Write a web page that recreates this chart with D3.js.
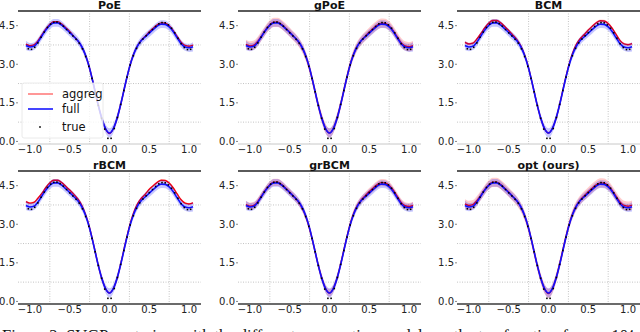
<!DOCTYPE html>
<html>
<head>
<meta charset="utf-8">
<script src="https://cdn.jsdelivr.net/npm/d3@7"></script>
<style>
body { margin: 0; background: #fff; }
text { font-family: "DejaVu Sans", sans-serif; }
</style>
</head>
<body>
<div id="chart"></div>
<script>
// input locations of the posterior curves
var gridX = [-1.05,-1.00,-0.95,-0.90,-0.85,-0.80,-0.75,-0.70,-0.65,-0.60,-0.55,-0.50,-0.45,-0.40,-0.35,-0.30,-0.25,-0.20,-0.15,-0.10,-0.05,0.00,
             0.05,0.10,0.15,0.20,0.25,0.30,0.35,0.40,0.45,0.50,0.55,0.60,0.65,0.70,0.75,0.80,0.85,0.90,0.95,1.00,1.05];

// full GP (same in every panel)
var fullMean = [3.73,3.67,3.70,3.86,4.10,4.33,4.51,4.61,4.61,4.52,4.38,4.23,4.08,3.92,3.69,3.34,2.84,2.20,1.52,0.93,0.50,0.33,
                0.51,0.95,1.56,2.24,2.87,3.36,3.70,3.92,4.07,4.21,4.35,4.48,4.56,4.55,4.45,4.27,4.03,3.80,3.67,3.64,3.68];
var fullBand = [0.18,0.16,0.15,0.15,0.15,0.15,0.15,0.15,0.15,0.15,0.15,0.15,0.15,0.15,0.15,0.15,0.15,0.15,0.15,0.16,0.17,0.18,
                0.17,0.16,0.15,0.15,0.15,0.15,0.15,0.15,0.15,0.15,0.15,0.15,0.15,0.15,0.15,0.15,0.15,0.15,0.15,0.16,0.18];

// aggregated posterior means, one per model
var poeMean   = [3.78,3.72,3.75,3.91, 4.14,4.37,4.55,4.65,4.65,4.56,4.42,4.27, 4.09,3.92,3.69,3.34,2.84,2.20,1.52,0.93, 0.49,0.31,0.50,
                 0.95,1.56,2.24,2.87,3.37,3.71,3.94,4.09, 4.26,4.40,4.53,4.61,4.60,4.50,4.32,4.08, 3.86,3.73,3.70,3.74];
var gpoeMean  = [3.77,3.71,3.74,3.90, 4.12,4.35,4.53,4.63,4.63,4.54,4.40,4.25, 4.08,3.91,3.68,3.33,2.83,2.19,1.52,0.94, 0.50,0.33,0.51,
                 0.96,1.57,2.25,2.88,3.37,3.71,3.93,4.09, 4.25,4.39,4.52,4.60,4.59,4.49,4.31,4.07, 3.84,3.71,3.68,3.72];
var bcmMean   = [3.85,3.79,3.82,3.98, 4.19,4.42,4.60,4.70,4.70,4.61,4.47,4.31, 4.14,3.97,3.73,3.36,2.85,2.20,1.52,0.93, 0.50,0.33,0.51,
                 0.95,1.57,2.26,2.90,3.41,3.77,4.00,4.16, 4.33,4.48,4.61,4.69,4.68,4.58,4.40,4.16, 3.92,3.79,3.76,3.80];
var rbcmMean  = [3.88,3.82,3.85,4.01, 4.20,4.43,4.61,4.71,4.71,4.62,4.48,4.33, 4.17,3.99,3.75,3.37,2.86,2.21,1.52,0.93, 0.50,0.33,0.51,
                 0.95,1.58,2.27,2.91,3.42,3.78,4.01,4.17, 4.36,4.50,4.63,4.71,4.70,4.60,4.42,4.18, 3.95,3.82,3.79,3.83];
var grbcmMean = [3.76,3.70,3.73,3.89, 4.12,4.35,4.53,4.63,4.63,4.54,4.40,4.25, 4.08,3.91,3.67,3.32,2.82,2.19,1.52,0.94, 0.50,0.33,0.51,
                 0.96,1.58,2.26,2.89,3.39,3.73,3.95,4.11, 4.27,4.41,4.54,4.62,4.61,4.51,4.33,4.09, 3.85,3.72,3.69,3.73];
var optMean   = [3.79,3.73,3.76,3.92, 4.12,4.35,4.53,4.63,4.63,4.54,4.40,4.25, 4.08,3.91,3.68,3.33,2.83,2.19,1.51,0.93, 0.49,0.31,0.50,
                 0.96,1.58,2.26,2.89,3.38,3.72,3.95,4.11, 4.26,4.40,4.53,4.61,4.60,4.50,4.32,4.08, 3.86,3.73,3.70,3.74];

// half-width of the aggregated confidence band per model
var models   = ["PoE", "gPoE", "BCM", "rBCM", "grBCM", "opt (ours)"];
var aggMeans = [poeMean, gpoeMean, bcmMean, rbcmMean, grbcmMean, optMean];
var aggBands = [0.03, 0.18, 0.05, 0.04, 0.14, 0.18];

// true function samples
var trueX = [-1.02,-0.98,-0.94,-0.90,-0.86,-0.82,-0.78,-0.74,-0.70,-0.66,-0.62,-0.58,-0.54,-0.50,-0.46,-0.42,-0.38,-0.34,-0.30,-0.26,-0.22,-0.18,-0.14,-0.10,-0.06,-0.02,
             0.02,0.06,0.10,0.14,0.18,0.22,0.26,0.30,0.34,0.38,0.42,0.46,0.50,0.54,0.58,0.62,0.66,0.70,0.74,0.78,0.82,0.86,0.90,0.94,0.98,1.02];
var trueY = [3.60,3.58,3.66,3.83,4.05,4.25,4.43,4.56,4.63,4.64,4.58,4.48,4.35,4.22,4.10,3.97,3.82,3.60,3.30,2.92,2.45,1.93,1.40,0.90,0.48,0.12,
             0.12,0.50,0.93,1.44,1.98,2.50,2.97,3.33,3.62,3.83,3.98,4.11,4.23,4.35,4.47,4.57,4.62,4.61,4.53,4.40,4.22,4.01,3.80,3.65,3.57,3.58];

var xTicks = [-1.0, -0.5, 0.0, 0.5, 1.0];
var yTicks = [0.0, 1.5, 3.0, 4.5];
var xGrid = [-0.75, -0.25, 0.25, 0.75];
var yGrid = [0.75, 2.25, 3.75];
var legendLabels = ["aggreg", "full", "true"];

var caption = "Figure 2: SVGP posteriors with the different aggregation models on the toy function for n = 10\u2074";

var W = 640, H = 332;
var cols = [18, 238, 457], rows = [11, 171];
var pw = 183, ph = 133;

var svg = d3.select("#chart").append("svg")
    .attr("width", W)
    .attr("height", H);

var x = d3.scaleLinear().domain([-1.15, 1.15]).range([0, pw]);
var y = d3.scaleLinear().domain([-0.1, 5.07]).range([ph, 0]);
var fmt = d3.format(".1f");

function bandArea(mean, half) {
    return d3.area()
        .x(function (d, i) { return x(gridX[i]); })
        .y0(function (d, i) { return y(mean[i] - (typeof half === "number" ? half : half[i])); })
        .y1(function (d, i) { return y(mean[i] + (typeof half === "number" ? half : half[i])); })
        .curve(d3.curveMonotoneX);
}
var meanLine = d3.line()
    .x(function (d, i) { return x(gridX[i]); })
    .y(function (d) { return y(d); })
    .curve(d3.curveMonotoneX);

models.forEach(function (name, k) {
    var row = Math.floor(k / 3), col = k % 3;
    var g = svg.append("g")
        .attr("transform", "translate(" + cols[col] + "," + rows[row] + ")");

    // dotted grid
    g.selectAll(".gx").data(xGrid).enter().append("line")
        .attr("x1", function (d) { return x(d); })
        .attr("x2", function (d) { return x(d); })
        .attr("y1", 0).attr("y2", ph)
        .attr("stroke", "#c4c4c4").attr("stroke-dasharray", "1,1.5");
    g.selectAll(".gy").data(yGrid).enter().append("line")
        .attr("x1", 0).attr("x2", pw)
        .attr("y1", function (d) { return y(d); })
        .attr("y2", function (d) { return y(d); })
        .attr("stroke", "#c4c4c4").attr("stroke-dasharray", "1,1.5");

    // bands and means
    g.append("path").datum(aggMeans[k])
        .attr("d", bandArea(aggMeans[k], aggBands[k]))
        .attr("fill", "red").attr("fill-opacity", 0.2);
    g.append("path").datum(aggMeans[k])
        .attr("d", meanLine)
        .attr("fill", "none").attr("stroke", "red").attr("stroke-width", 1.4);
    g.append("path").datum(fullMean)
        .attr("d", bandArea(fullMean, fullBand))
        .attr("fill", "blue").attr("fill-opacity", 0.22);
    g.append("path").datum(fullMean)
        .attr("d", meanLine)
        .attr("fill", "none").attr("stroke", "#1010ff").attr("stroke-width", 1.6);

    g.selectAll(".pt").data(trueY).enter().append("rect")
        .attr("x", function (d, i) { return x(trueX[i]) - 0.8; })
        .attr("y", function (d) { return y(d) - 0.8; })
        .attr("width", 1.6).attr("height", 1.6)
        .attr("fill", "#000");

    // spines
    g.append("line").attr("x1", 0).attr("x2", pw).attr("y1", 0).attr("y2", 0)
        .attr("stroke", "#5a5a5a").attr("stroke-width", 2);
    g.append("line").attr("x1", 0).attr("x2", pw).attr("y1", ph).attr("y2", ph)
        .attr("stroke", row === 0 ? "#c8c8c8" : "#3a3a3a")
        .attr("stroke-width", row === 0 ? 1 : 1.5);

    // ticks
    g.selectAll(".xt").data(xTicks).enter().append("text")
        .attr("x", function (d) { return x(d); })
        .attr("y", ph + 9)
        .attr("text-anchor", "middle")
        .attr("font-size", 10).attr("fill", "#222")
        .text(function (d) { return fmt(d); });
    g.selectAll(".yt").data(yTicks).enter().append("text")
        .attr("x", -3)
        .attr("y", function (d) { return y(d); })
        .attr("dy", "0.35em")
        .attr("text-anchor", "end")
        .attr("font-size", 10).attr("fill", "#222")
        .text(function (d) { return fmt(d); });
    g.selectAll(".ytm").data(yTicks).enter().append("line")
        .attr("x1", -2).attr("x2", 0)
        .attr("y1", function (d) { return y(d); })
        .attr("y2", function (d) { return y(d); })
        .attr("stroke", "#888");

    g.append("text")
        .attr("x", pw / 2).attr("y", -2.5)
        .attr("text-anchor", "middle")
        .attr("font-size", 11).attr("font-weight", "bold").attr("fill", "#111")
        .text(name);

    if (k === 0) {
        var lg = g.append("g").attr("transform", "translate(4,72)");
        lg.append("rect").attr("width", 81).attr("height", 55).attr("rx", 2)
            .attr("fill", "#fff").attr("fill-opacity", 0.8)
            .attr("stroke", "#e4e4e4").attr("stroke-width", 0.8);
        var ly = [11, 26, 44];
        lg.append("line").attr("x1", 6).attr("x2", 31).attr("y1", ly[0]).attr("y2", ly[0])
            .attr("stroke", "#ff6a6a").attr("stroke-width", 1.4);
        lg.append("line").attr("x1", 6).attr("x2", 31).attr("y1", ly[1]).attr("y2", ly[1])
            .attr("stroke", "#3030ff").attr("stroke-width", 1.8);
        lg.append("rect").attr("x", 17.2).attr("y", ly[2] - 0.8).attr("width", 1.6).attr("height", 1.6)
            .attr("fill", "#000");
        lg.selectAll(".lt").data(legendLabels).enter().append("text")
            .attr("x", 40)
            .attr("y", function (d, i) { return ly[i]; })
            .attr("dy", "0.35em")
            .attr("font-size", 11.5).attr("fill", "#111")
            .text(function (d) { return d; });
    }
});

svg.append("text")
    .attr("x", 2).attr("y", 341)
    .style("font-family", "'Liberation Serif', serif")
    .attr("font-size", 16.5).attr("fill", "#111")
    .text(caption);
</script>
</body>
</html>
